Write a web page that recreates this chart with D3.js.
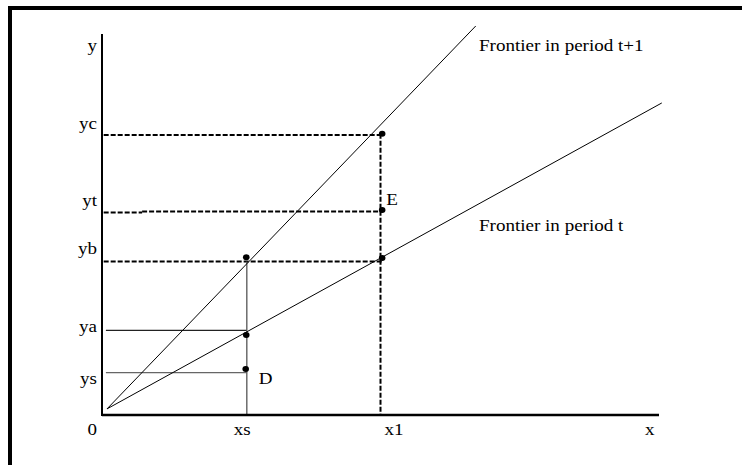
<!DOCTYPE html>
<html lang="en">
<head>
<meta charset="utf-8">
<title>Frontier shift</title>
<style>
  body { margin: 0; background: #fff; }
  text { font-family: "Liberation Serif", "Times New Roman", serif; font-size: 16px; fill: #000; }
</style>
</head>
<body>
<script src="https://cdn.jsdelivr.net/npm/d3@7"></script>
<script>
// tick labels and where they sit on each axis
var yTickLabels = ["ys", "ya", "yb", "yt", "yc"];
var yTickValues = [1.11, 2.22, 4.03, 5.34, 7.35];
var xTickLabels = ["xs", "x1"];
var xTickValues = [2.6, 5.0];

// the two frontiers (start and end points)
var frontierNames = ["Frontier in period t+1", "Frontier in period t"];
var frontierX0 = [0.09, 0.09];
var frontierY0 = [0.16, 0.16];
var frontierX1 = [6.71, 10.05];
var frontierY1 = [10.21, 8.19];

// observed points
var pointX = [2.59, 2.59, 2.58, 5.03, 5.03, 5.03];
var pointY = [4.14, 2.10, 1.21, 7.38, 5.38, 4.12];
var pointNames = ["", "", "D", "", "E", ""];

var w = 742, h = 465;
var sx = 1.19; // text is drawn a bit wide in the original

var x = d3.scaleLinear().domain([0, 10]).range([102, 659]);
var y = d3.scaleLinear().domain([0, 10]).range([415, 34]);

var svg = d3.select("body").append("svg").attr("width", w).attr("height", h);

// frame (top and left only)
svg.append("rect").attr("x", 8).attr("y", 6).attr("width", w - 8).attr("height", 4).attr("fill", "#000");
svg.append("rect").attr("x", 8).attr("y", 6).attr("width", 4).attr("height", h - 6).attr("fill", "#000");

function label(t, px, py, anchor) {
  var g = svg.append("g").attr("transform", "translate(" + px + "," + py + ") scale(" + sx + ",1)");
  g.append("text").attr("text-anchor", anchor || "start").text(t);
}

// guides: dashed to the x1 points, solid to the xs points
var dashed = svg.append("g").attr("stroke", "#000").attr("stroke-width", 2).attr("stroke-dasharray", "5,2").attr("fill", "none");
dashed.append("line").attr("x1", x(0.03)).attr("x2", x(pointX[3])).attr("y1", y(yTickValues[4])).attr("y2", y(yTickValues[4]));
dashed.append("line").attr("x1", x(0.03)).attr("x2", x(0.72)).attr("y1", y(yTickValues[3]) + 1).attr("y2", y(yTickValues[3]) + 1);
dashed.append("line").attr("x1", x(0.72)).attr("x2", x(pointX[4])).attr("y1", y(yTickValues[3])).attr("y2", y(yTickValues[3]));
dashed.append("line").attr("x1", x(0.03)).attr("x2", x(pointX[3])).attr("y1", y(yTickValues[2])).attr("y2", y(yTickValues[2]));
dashed.append("line").attr("x1", x(xTickValues[1])).attr("x2", x(xTickValues[1])).attr("y1", y(pointY[3])).attr("y2", y(0));

var solid = svg.append("g").attr("fill", "none").attr("stroke-width", 1.3);
solid.append("line").attr("stroke", "#222").attr("x1", x(0.07)).attr("x2", x(xTickValues[0])).attr("y1", y(yTickValues[1])).attr("y2", y(yTickValues[1]));
solid.append("line").attr("stroke", "#666").attr("x1", x(0.07)).attr("x2", x(xTickValues[0])).attr("y1", y(yTickValues[0])).attr("y2", y(yTickValues[0]));
solid.append("line").attr("stroke", "#555").attr("x1", x(xTickValues[0])).attr("x2", x(xTickValues[0])).attr("y1", y(yTickValues[2])).attr("y2", y(0));

// frontiers
svg.append("g").selectAll("line").data(frontierNames).enter().append("line")
  .attr("x1", function(d, i) { return x(frontierX0[i]); })
  .attr("y1", function(d, i) { return y(frontierY0[i]); })
  .attr("x2", function(d, i) { return x(frontierX1[i]); })
  .attr("y2", function(d, i) { return y(frontierY1[i]); })
  .attr("stroke", "#000").attr("stroke-width", 1);

// axes
svg.append("line").attr("x1", x(0)).attr("x2", x(0)).attr("y1", y(10)).attr("y2", y(0) + 1).attr("stroke", "#000").attr("stroke-width", 2);
svg.append("line").attr("x1", x(0)).attr("x2", x(10)).attr("y1", y(0)).attr("y2", y(0)).attr("stroke", "#000").attr("stroke-width", 2.5);

// points
svg.append("g").selectAll("ellipse").data(pointX).enter().append("ellipse")
  .attr("cx", function(d) { return x(d); })
  .attr("cy", function(d, i) { return y(pointY[i]); })
  .attr("rx", 3.3).attr("ry", 3).attr("fill", "#000");

// y labels
var yLabelDy = [11, 2, -7, -6, -6];
yTickLabels.forEach(function(t, i) { label(t, x(0) - 5, y(yTickValues[i]) + yLabelDy[i], "end"); });
label("y", x(0) - 5, 51, "end");
label("0", x(0) - 5, 435, "end");

// x labels
xTickLabels.forEach(function(t, i) { label(t, x(xTickValues[i]) + (i == 0 ? -13 : 4), 435, "start"); });
label("x", x(10) - 14, 435, "start");

// point names
pointNames.forEach(function(t, i) { if (t) label(t, x(pointX[i]) + (i == 2 ? 13 : 4), y(pointY[i]) + (i == 2 ? 15 : -5), "start"); });

// frontier names
label(frontierNames[0], 479, 51, "start");
label(frontierNames[1], 479, 231, "start");
</script>
</body>
</html>
